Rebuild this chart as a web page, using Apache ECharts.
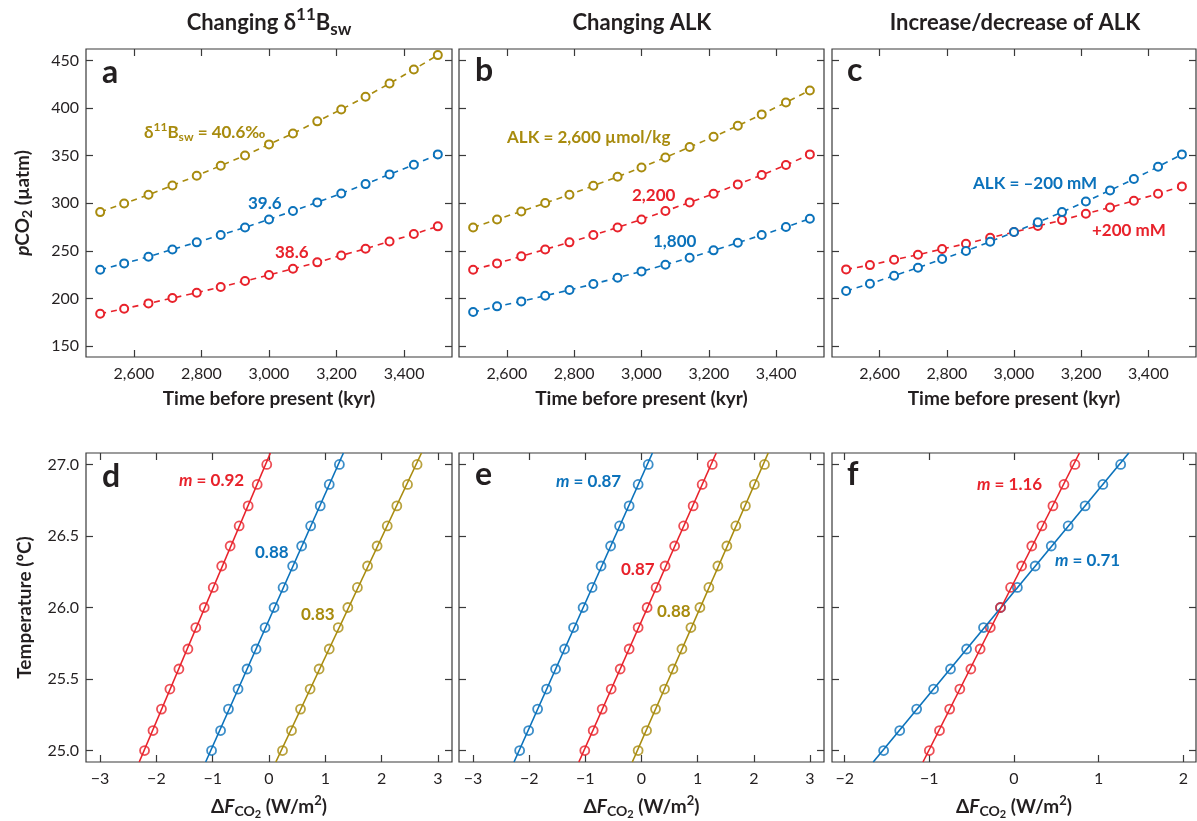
<!DOCTYPE html>
<html>
<head>
<meta charset="utf-8">
<style>html,body{margin:0;padding:0;background:#fff}#chart{width:1197px;height:821px}</style>
<script src="https://cdn.jsdelivr.net/npm/echarts@6/dist/echarts.min.js"></script>
</head>
<body>
<div id="chart"></div>
<script>
const GOLD = '#a88b0e', BLUE = '#0b72bb', RED = '#e8222b', INK = '#231f20', FRAME = '#3a3a3a';
const FONT = 'Lato, "Open Sans", sans-serif';

// top row: pCO2 (µatm) against time before present (kyr)
const timeKyr = [2500, 2571, 2643, 2714, 2786, 2857, 2929, 3000, 3071, 3143, 3214, 3286, 3357, 3429, 3500];
const timeTicks = [2600, 2800, 3000, 3200, 3400];
const pco2Ticks = [150, 200, 250, 300, 350, 400, 450];
const aGold = [290.7, 299.8, 308.9, 318.7, 328.9, 339.4, 350.2, 361.8, 373.3, 386.0, 398.5, 411.8, 425.8, 440.5, 455.6];
const aBlue = [230.2, 236.8, 243.8, 251.5, 258.9, 266.6, 274.6, 283.0, 291.8, 300.9, 310.3, 320.1, 330.3, 340.4, 351.3];
const aRed = [184.0, 189.2, 194.8, 200.4, 206.0, 212.0, 218.3, 224.6, 231.2, 237.9, 245.2, 252.2, 259.9, 267.6, 275.7];
const bGold = [274.6, 283.0, 291.4, 300.2, 308.9, 318.4, 327.8, 337.6, 348.1, 359.0, 369.8, 381.4, 393.3, 405.9, 418.5];
const bRed = [230.2, 236.8, 244.2, 251.5, 258.9, 266.6, 274.6, 283.0, 291.8, 300.9, 310.0, 319.8, 329.6, 340.1, 351.3];
const bBlue = [185.7, 191.7, 196.9, 202.9, 208.8, 215.1, 221.8, 228.4, 235.4, 242.8, 250.5, 258.5, 266.6, 275.0, 283.7];
const cRed = [230.5, 235.0, 240.7, 245.9, 251.9, 257.5, 263.8, 269.7, 276.0, 282.3, 289.0, 295.6, 302.6, 310.0, 317.7];
const cBlue = [207.8, 215.5, 223.9, 232.3, 241.4, 249.8, 259.6, 269.7, 279.9, 290.7, 301.9, 313.5, 325.4, 338.3, 351.3];

// bottom row: temperature (ºC) against ΔF_CO2 (W/m2)
const tempC = [25.0, 25.14, 25.29, 25.43, 25.57, 25.71, 25.86, 26.0, 26.14, 26.29, 26.43, 26.57, 26.71, 26.86, 27.0];
const tempTicks = [25.0, 25.5, 26.0, 26.5, 27.0];
const forceTicks3 = [-3, -2, -1, 0, 1, 2, 3];
const forceTicks2 = [-2, -1, 0, 1, 2];
const dRed = [-2.21, -2.06, -1.91, -1.76, -1.60, -1.44, -1.30, -1.15, -0.99, -0.84, -0.69, -0.53, -0.37, -0.21, -0.04];
const dBlue = [-1.02, -0.86, -0.72, -0.55, -0.39, -0.23, -0.07, 0.09, 0.25, 0.42, 0.58, 0.74, 0.91, 1.07, 1.25];
const dGold = [0.24, 0.40, 0.56, 0.73, 0.89, 1.07, 1.23, 1.40, 1.57, 1.75, 1.92, 2.10, 2.27, 2.46, 2.63];
const eBlue = [-2.17, -2.01, -1.85, -1.69, -1.53, -1.37, -1.21, -1.04, -0.88, -0.72, -0.55, -0.39, -0.22, -0.06, 0.12];
const eRed = [-1.01, -0.86, -0.70, -0.54, -0.38, -0.22, -0.06, 0.10, 0.26, 0.42, 0.59, 0.75, 0.92, 1.08, 1.26];
const eGold = [-0.06, 0.09, 0.25, 0.41, 0.56, 0.72, 0.88, 1.04, 1.20, 1.36, 1.52, 1.68, 1.85, 2.01, 2.19];
const fBlue = [-1.54, -1.35, -1.15, -0.95, -0.75, -0.56, -0.36, -0.16, 0.04, 0.25, 0.44, 0.64, 0.84, 1.05, 1.26];
const fRed = [-1.00, -0.88, -0.76, -0.64, -0.51, -0.40, -0.28, -0.16, -0.04, 0.09, 0.21, 0.33, 0.46, 0.59, 0.72];

const TOP = { top: 49, height: 308, xMin: 2458, xMax: 3542, yMin: 138.5, yMax: 462 };
const BOT = { top: 453, height: 309, yMin: 24.92, yMax: 27.08 };

const panels = [
  { row: TOP, left: 86, width: 366, xTicks: timeTicks, yLabels: true, lines: [[aGold, GOLD], [aBlue, BLUE], [aRed, RED]] },
  { row: TOP, left: 459, width: 365, xTicks: timeTicks, lines: [[bGold, GOLD], [bRed, RED], [bBlue, BLUE]] },
  { row: TOP, left: 832, width: 364, xTicks: timeTicks, lines: [[cRed, RED], [cBlue, BLUE]] },
  { row: BOT, left: 86, width: 366, xMin: -3.25, xMax: 3.25, xTicks: forceTicks3, yLabels: true, lines: [[dRed, RED], [dBlue, BLUE], [dGold, GOLD]] },
  { row: BOT, left: 459, width: 365, xMin: -3.25, xMax: 3.25, xTicks: forceTicks3, lines: [[eBlue, BLUE], [eRed, RED], [eGold, GOLD]] },
  { row: BOT, left: 832, width: 364, xMin: -2.15, xMax: 2.15, xTicks: forceTicks2, lines: [[fBlue, BLUE], [fRed, RED]] }
];

const NS = 19;
const nameStyle = {
  color: INK, fontFamily: FONT, fontWeight: 'bold', fontSize: NS,
  rich: {
    i: { fontStyle: 'italic', fontWeight: 'bold', fontSize: NS, fontFamily: FONT, color: INK },
    d: { fontWeight: 'bold', fontSize: NS, fontFamily: FONT, color: INK },
    sub: { fontWeight: 'bold', fontSize: 14, fontFamily: FONT, color: INK, padding: [9, 0, 0, 0] },
    sub2: { fontWeight: 'bold', fontSize: 11, fontFamily: FONT, color: INK, padding: [16, 0, 0, 0] },
    sup: { fontWeight: 'bold', fontSize: 13, fontFamily: FONT, color: INK, padding: [0, 0, 11, 0] }
  }
};

const minus = v => (v < 0 ? '\u2212' + Math.abs(v) : String(v));

function fitLine(xs, ys, yMin, yMax) {
  // least squares x = a + b*y, evaluated at the axis limits
  const n = xs.length;
  const my = ys.reduce((s, v) => s + v, 0) / n;
  const mx = xs.reduce((s, v) => s + v, 0) / n;
  let sxy = 0, syy = 0;
  for (let k = 0; k < n; k++) { sxy += (ys[k] - my) * (xs[k] - mx); syy += (ys[k] - my) * (ys[k] - my); }
  const b = sxy / syy, a = mx - b * my;
  return [[a + b * yMin, yMin], [a + b * yMax, yMax]];
}

const grid = [], xAxis = [], yAxis = [], series = [];
panels.forEach((p, i) => {
  const isTop = p.row === TOP;
  grid.push({ left: p.left, top: p.row.top, width: p.width, height: p.row.height, show: true, borderColor: FRAME, borderWidth: 1.2, backgroundColor: 'transparent' });
  const xMin = isTop ? TOP.xMin : p.xMin, xMax = isTop ? TOP.xMax : p.xMax;
  const yTicks = isTop ? pco2Ticks : tempTicks;
  const tick = ticks => ({ show: true, inside: true, length: 7, lineStyle: { color: FRAME, width: 1.2 }, customValues: ticks });
  ['bottom', 'top'].forEach(pos => xAxis.push({
    type: 'value', gridIndex: i, position: pos, min: xMin, max: xMax,
    axisLine: { show: false, onZero: false }, splitLine: { show: false }, axisTick: tick(p.xTicks),
    axisLabel: {
      show: pos === 'bottom', customValues: p.xTicks, margin: 9, color: INK, fontFamily: FONT, fontSize: 16,
      formatter: v => (isTop ? v.toLocaleString('en-US') : minus(v))
    },
    name: pos === 'bottom' ? (isTop ? 'Time before present (kyr)' : '{d|\u0394}{i|F}{sub|CO}{sub2|2} (W/m{sup|2})') : '',
    nameLocation: 'middle', nameGap: isTop ? 32 : 31, nameTextStyle: nameStyle
  }));
  ['left', 'right'].forEach(pos => yAxis.push({
    type: 'value', gridIndex: i, position: pos, min: p.row.yMin, max: p.row.yMax,
    axisLine: { show: false, onZero: false }, splitLine: { show: false }, axisTick: tick(yTicks),
    axisLabel: {
      show: pos === 'left' && !!p.yLabels, customValues: yTicks, margin: 7, color: INK, fontFamily: FONT, fontSize: 16,
      formatter: v => (isTop ? String(v) : v.toFixed(1))
    },
    name: pos === 'left' && p.yLabels ? (isTop ? '{i|p}CO{sub|2} (\u00b5atm)' : 'Temperature (\u00baC)') : '',
    nameLocation: 'middle', nameGap: 52, nameTextStyle: nameStyle
  }));
  p.lines.forEach(([vals, color]) => {
    if (isTop) {
      series.push({
        type: 'line', xAxisIndex: 2 * i, yAxisIndex: 2 * i,
        data: vals.map((v, k) => [timeKyr[k], v]),
        symbol: 'emptyCircle', symbolSize: 8, showAllSymbol: true,
        lineStyle: { color, width: 1.6, type: [6, 5] },
        itemStyle: { color, borderColor: color, borderWidth: 1.6 },
        silent: true, animation: false
      });
    } else {
      series.push({
        type: 'line', xAxisIndex: 2 * i, yAxisIndex: 2 * i,
        data: fitLine(vals, tempC, BOT.yMin, BOT.yMax),
        symbol: 'none', lineStyle: { color, width: 1.6 }, silent: true, animation: false
      });
      series.push({
        type: 'scatter', xAxisIndex: 2 * i, yAxisIndex: 2 * i,
        data: vals.map((v, k) => [v, tempC[k]]),
        symbol: 'circle', symbolSize: 9,
        itemStyle: { color: 'rgba(0,0,0,0)', borderColor: color, borderWidth: 1.8 },
        silent: true, animation: false
      });
    }
  });
});

const txtRich = (size, color) => ({
  i: { fontStyle: 'italic', fontWeight: 'bold', fontSize: size, fontFamily: FONT, fill: color },
  sup: { fontWeight: 'bold', fontSize: size - 5, fontFamily: FONT, fill: color, padding: [0, 0, size - 5, 0] },
  sub: { fontWeight: 'bold', fontSize: size - 5, fontFamily: FONT, fill: color, padding: [size - 8, 0, 0, 0] }
});
const text = (x, y, str, color, size, align) => ({
  type: 'text', x, y, silent: true,
  style: {
    text: str, fill: color, fontFamily: FONT, fontWeight: 'bold', fontSize: size,
    align: align || 'left', verticalAlign: 'middle', rich: txtRich(size, color)
  }
});

const graphic = [
  text(269, 23, 'Changing \u03b4{sup|11}B{sub|sw}', INK, 22, 'center'),
  text(642, 23, 'Changing ALK', INK, 22, 'center'),
  text(1015, 23, 'Increase/decrease of ALK', INK, 22, 'center'),
  text(102, 73, 'a', INK, 32), text(475, 71, 'b', INK, 32), text(847, 71, 'c', INK, 32),
  text(102, 477, 'd', INK, 32), text(475, 475, 'e', INK, 32), text(847, 475, 'f', INK, 32),
  text(144, 133, '\u03b4{sup|11}B{sub|sw} = 40.6\u2030', GOLD, 17),
  text(248, 204, '39.6', BLUE, 17),
  text(275, 253, '38.6', RED, 17),
  text(507, 138, 'ALK = 2,600 \u00b5mol/kg', GOLD, 17),
  text(632, 196, '2,200', RED, 17),
  text(653, 242, '1,800', BLUE, 17),
  text(973, 184, 'ALK = \u2013200 mM', BLUE, 17),
  text(1092, 231, '+200 mM', RED, 17),
  text(179, 481, '{i|m} = 0.92', RED, 17),
  text(255, 553, '0.88', BLUE, 17),
  text(301, 615, '0.83', GOLD, 17),
  text(556, 482, '{i|m} = 0.87', BLUE, 17),
  text(621, 570, '0.87', RED, 17),
  text(657, 612, '0.88', GOLD, 17),
  text(977, 485, '{i|m} = 1.16', RED, 17),
  text(1055, 561, '{i|m} = 0.71', BLUE, 17)
];

const chart = echarts.init(document.getElementById('chart'));
chart.setOption({ backgroundColor: '#fff', animation: false, grid, xAxis, yAxis, series, graphic });
</script>
</body>
</html>
